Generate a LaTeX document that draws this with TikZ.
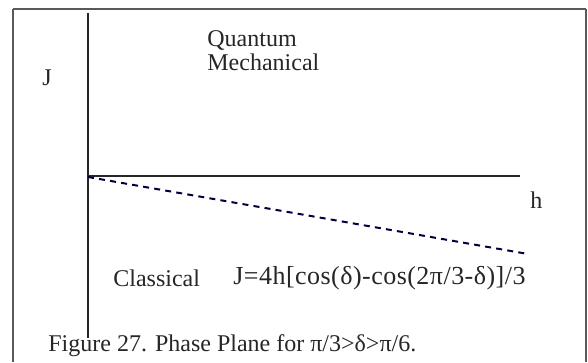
\documentclass[tikz,border=0pt]{standalone}
\usepackage{fontspec}
\setmainfont{Liberation Serif}
\usetikzlibrary{positioning, calc}

\begin{document}
\begin{tikzpicture}[
    x=0.5pt, y=-0.5pt,
    border/.style={draw=black!65, line width=1pt},
    axis/.style={draw=black!85, line width=1pt},
    classic/.style={draw=blue!25!black, line width=1pt, dash pattern=on 3pt off 2.6pt},
    label/.style={font=\fontsize{12}{14}\selectfont, inner sep=0pt, text=black!85},
    formula/.style={label, font=\fontsize{13}{15}\selectfont\addfontfeatures{LetterSpace=1.8}},
    caption/.style={label, anchor=west}
]
\useasboundingbox (0,0) rectangle (588,363);

% Border
\coordinate (bl) at (13,362);
\coordinate (tl) at (13,9.5);
\coordinate (tr) at (586,9.5);
\coordinate (br) at (586,362);
\draw[border] (tl) -- (bl);
\draw[border] (tl) -- (tr);
\draw[border] (tr) -- (br);

% Axes
\coordinate (o) at (88,176);
\coordinate (jtop) at (88,13);
\coordinate (jbot) at (88,338);
\coordinate (hend) at (520,176);
\coordinate (cend) at (528,254);

\draw[axis] (jtop) -- (jbot);
\draw[axis] (o) -- (hend);

% Classical boundary
\draw[classic] ($(o)+(0,1)$) -- (cend);

% Labels
\node[label] (jlab) at (47,78) {J};
\node[label, anchor=west] (hlab) at (530,200) {h};
\node[label, anchor=west, align=left] (qm) at (207,51) {Quantum\\[-2pt]Mechanical};
\node[label, anchor=west] (cl) at (113,278) {Classical};
\node[formula, anchor=west] (eq) at (233,278) {J=4h[cos(δ)-cos(2π/3-δ)]/3};

% Caption
\node[caption] (cap) at (48,346) {Figure 27. Phase Plane for π/3>δ>π/6.};

\end{tikzpicture}
\end{document}
